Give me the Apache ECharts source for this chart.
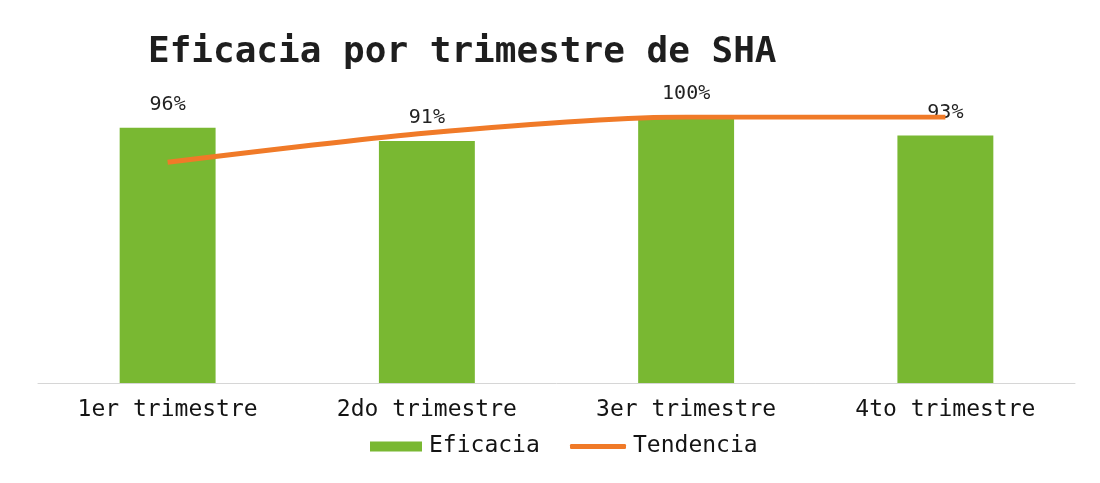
<!DOCTYPE html>
<html>
<head>
<meta charset="utf-8">
<script src="https://cdn.jsdelivr.net/npm/echarts@6/dist/echarts.min.js"></script>
<style>
  html, body { margin: 0; padding: 0; background: #fff; }
  #main { width: 1100px; height: 483px; }
</style>
</head>
<body>
<div id="main"></div>
<script>
var categories = ['1er trimestre', '2do trimestre', '3er trimestre', '4to trimestre'];
var eficacia = [96, 91, 100, 93];
var tendencia = [83, 94, 100, 100];

var chart = echarts.init(document.getElementById('main'));
var mono = '"DejaVu Sans Mono", "Liberation Mono", monospace';
var legendText = {
  fontFamily: mono,
  fontSize: 23,
  color: '#141414',
  padding: [0, 0, 0, 2]
};

var option = {
  backgroundColor: '#ffffff',
  title: {
    text: 'Eficacia por trimestre de SHA',
    left: 143,
    top: 30,
    textStyle: {
      fontFamily: mono,
      fontSize: 36,
      fontWeight: 'bold',
      color: '#1e1e1e'
    }
  },
  legend: [
    {
      left: 365,
      top: 430,
      itemWidth: 52,
      itemHeight: 10,
      textStyle: legendText,
      data: [{name: 'Eficacia', icon: 'rect'}]
    },
    {
      left: 565,
      top: 430,
      itemWidth: 56,
      itemHeight: 5,
      textStyle: legendText,
      data: [{name: 'Tendencia', icon: 'roundRect'}]
    }
  ],
  grid: {
    left: 38,
    right: 25,
    top: 117,
    bottom: 100
  },
  xAxis: {
    type: 'category',
    data: categories,
    axisTick: {show: false},
    axisLine: {lineStyle: {color: '#d6d6d6', width: 1}},
    axisLabel: {
      fontFamily: mono,
      fontSize: 23,
      color: '#141414',
      margin: 16
    }
  },
  yAxis: {
    type: 'value',
    min: 0,
    max: 100,
    show: false,
    splitLine: {show: false}
  },
  series: [
    {
      name: 'Eficacia',
      type: 'bar',
      data: eficacia,
      barWidth: '37%',
      itemStyle: {color: '#79b832'},
      label: {
        show: true,
        position: 'top',
        distance: 13,
        formatter: '{c}%',
        fontFamily: mono,
        fontSize: 20,
        color: '#222222'
      }
    },
    {
      name: 'Tendencia',
      type: 'line',
      data: tendencia,
      smooth: 0.25,
      symbol: 'none',
      lineStyle: {color: '#f07a28', width: 5},
      itemStyle: {color: '#f07a28'}
    }
  ]
};

chart.setOption(option);
</script>
</body>
</html>
